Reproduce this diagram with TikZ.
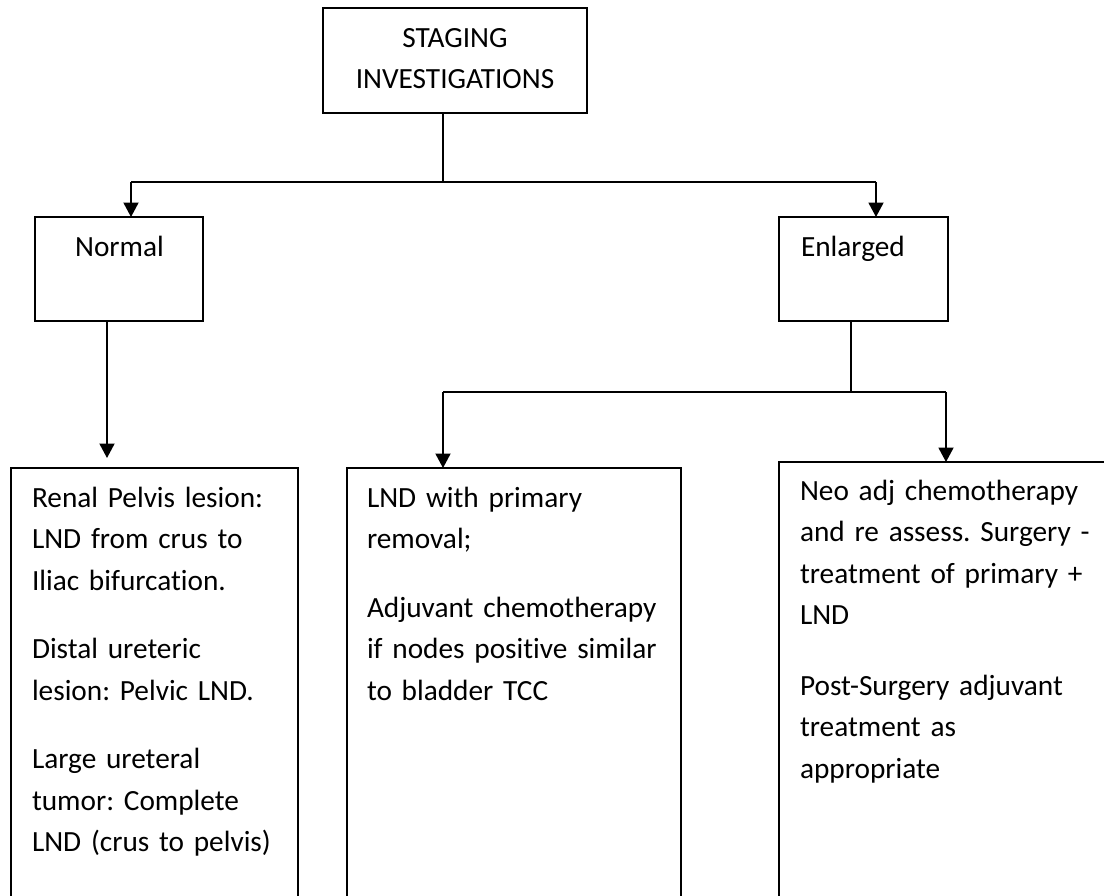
\documentclass[tikz,border=0pt]{standalone}
\usepackage{fontspec}
\setmainfont{Carlito}[Ligatures=NoCommon]
\usetikzlibrary{arrows.meta}
\frenchspacing

\begin{document}
\begin{tikzpicture}[x=1pt, y=-1pt,
  box/.style={draw, line width=1.9pt, inner sep=0pt, outer sep=0pt, anchor=north west},
  txt/.style={inner sep=0pt, outer sep=0pt, anchor=north west, align=left,
              font=\fontsize{29.3}{41.5}\selectfont},
  ctxt/.style={txt, align=center, anchor=north},
  link/.style={line width=1.7pt},
  arr/.style={line width=1.9pt, -{Triangle[length=14.5pt, width=15pt]}}
]
% canvas
\useasboundingbox (0,0) rectangle (1104,895);
\fill[white] (0,0) rectangle (1104,895);
\clip (0,0) rectangle (1104,895);

% boxes
\node[box, minimum width=264pt, minimum height=105pt] (top) at (323,8) {};
\node[box, minimum width=168pt, minimum height=104pt] (normal) at (35,217) {};
\node[box, minimum width=169pt, minimum height=104pt] (enl) at (779,217) {};
\node[box, minimum width=287pt, minimum height=500pt] (b1) at (11,468) {};
\node[box, minimum width=334pt, minimum height=500pt] (b2) at (347,468) {};
\node[box, minimum width=400pt, minimum height=500pt] (b3) at (779,462) {};

% texts (first baseline = node top + strut height)
\node[ctxt, text width=260pt] (ttop) at (455,18.3) {\strut STAGING\\INVESTIGATIONS};
\node[ctxt, text width=160pt] (tnormal) at (119.5,227.3) {\strut Normal};
\node[txt, text width=140pt] (tenl) at (801,227.3) {\strut Enlarged};
\node[txt, text width=265pt] (t1) at (32,478.3) {\strut Renal Pelvis lesion:\\
  LND from crus to\\
  Iliac bifurcation.\\[27pt]
  Distal ureteric\\
  lesion: Pelvic LND.\\[27pt]
  Large ureteral\\
  tumor: Complete\\
  LND (crus to pelvis)};
\node[txt, text width=312pt] (t2) at (367,478.3) {\strut LND with primary\\
  removal;\\[27pt]
  Adjuvant chemotherapy\\
  if nodes positive similar\\
  to bladder TCC};
\node[txt, text width=300pt] (t3) at (800,471.3) {\strut Neo adj chemotherapy\\
  and re assess. Surgery -\\
  treatment of primary +\\
  LND\\[29pt]
  Post-Surgery adjuvant\\
  treatment as\\
  appropriate};

% branching points
\coordinate (j1) at (443,182);
\coordinate (jn) at (131,182);
\coordinate (je) at (876,182);
\coordinate (nd) at (107,321);
\coordinate (j2) at (851,392);
\coordinate (k2) at (443,392);
\coordinate (k3) at (946,392);

% connectors
\draw[link] (j1 |- top.south) -- (j1);
\draw[link] (jn) -- (je);
\draw[arr] (jn) -- (jn |- normal.north);
\draw[arr] (je) -- (je |- enl.north);
\draw[arr, shorten >=10pt] (nd |- normal.south) -- (nd |- b1.north);
\draw[link] (j2 |- enl.south) -- (j2);
\draw[link] (k2) -- (k3);
\draw[arr] (k2) -- (k2 |- b2.north);
\draw[arr] (k3) -- (k3 |- b3.north);
\end{tikzpicture}
\end{document}
